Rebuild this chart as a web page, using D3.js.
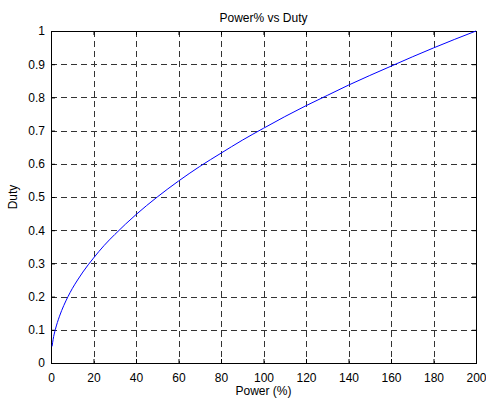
<!DOCTYPE html>
<html>
<head>
<meta charset="utf-8">
<script src="https://cdn.jsdelivr.net/npm/d3@7"></script>
<style>
  body { margin: 0; background: #fff; }
  text { font-family: "Liberation Sans", Arial, sans-serif; }
</style>
</head>
<body>
<div id="chart"></div>
<script>
// power (%) and duty
const power = [0.5, 1, 2, 3, 4, 6, 8, 10, 12.5, 15, 20, 25, 30, 40, 50, 60, 70, 80, 90, 100,
  110, 120, 130, 140, 150, 160, 170, 180, 190, 200];
const duty = [0.05, 0.071, 0.10, 0.122, 0.141, 0.173, 0.20, 0.224, 0.25, 0.274, 0.316, 0.354,
  0.387, 0.447, 0.50, 0.548, 0.592, 0.632, 0.671, 0.707, 0.742, 0.775, 0.806, 0.837, 0.866,
  0.894, 0.922, 0.949, 0.975, 1.00];
const xTicks = [0, 20, 40, 60, 80, 100, 120, 140, 160, 180, 200];
const yTicks = [0, 0.1, 0.2, 0.3, 0.4, 0.5, 0.6, 0.7, 0.8, 0.9, 1];

const width = 486, height = 400;
const margin = { top: 31, right: 10, bottom: 37, left: 51 };
const innerWidth = width - margin.left - margin.right;
const innerHeight = height - margin.top - margin.bottom;

const svg = d3.select("#chart").append("svg")
  .attr("width", width)
  .attr("height", height);

const g = svg.append("g")
  .attr("transform", `translate(${margin.left},${margin.top})`);

const x = d3.scaleLinear().domain([0, 200]).range([0, innerWidth]);
const y = d3.scaleLinear().domain([0, 1]).range([innerHeight, 0]);

// grid
g.append("g").selectAll("line")
  .data(xTicks.slice(1, -1))
  .join("line")
  .attr("x1", d => Math.round(x(d)) + 0.5).attr("x2", d => Math.round(x(d)) + 0.5)
  .attr("y1", 0).attr("y2", innerHeight)
  .attr("stroke", "#333").attr("stroke-dasharray", "6,4");

g.append("g").selectAll("line")
  .data(yTicks.slice(1, -1))
  .join("line")
  .attr("y1", d => Math.round(y(d)) + 0.5).attr("y2", d => Math.round(y(d)) + 0.5)
  .attr("x1", 0).attr("x2", innerWidth)
  .attr("stroke", "#333").attr("stroke-dasharray", "6,4");

// axes with inward ticks (box style)
const fmt = d => String(d);
g.append("g")
  .attr("transform", `translate(0,${innerHeight})`)
  .call(d3.axisBottom(x).tickValues(xTicks).tickSize(-4).tickPadding(10).tickFormat(fmt))
  .call(a => a.select(".domain").remove())
  .call(a => a.selectAll("text").attr("font-size", 12).attr("fill", "#000").attr("font-family", null));

g.append("g")
  .call(d3.axisTop(x).tickValues(xTicks).tickSize(-4))
  .call(a => a.select(".domain").remove())
  .call(a => a.selectAll("text").remove());

g.append("g")
  .call(d3.axisLeft(y).tickValues(yTicks).tickSize(-4).tickPadding(6).tickFormat(fmt))
  .call(a => a.select(".domain").remove())
  .call(a => a.selectAll("text").attr("font-size", 12).attr("fill", "#000").attr("font-family", null));

g.append("g")
  .attr("transform", `translate(${innerWidth},0)`)
  .call(d3.axisRight(y).tickValues(yTicks).tickSize(-4))
  .call(a => a.select(".domain").remove())
  .call(a => a.selectAll("text").remove());

g.append("rect")
  .attr("x", 0.5).attr("y", 0.5)
  .attr("width", innerWidth).attr("height", innerHeight)
  .attr("fill", "none").attr("stroke", "#000");

// curve
const line = d3.line()
  .x((d, i) => x(power[i]))
  .y(d => y(d))
  .curve(d3.curveMonotoneX);

g.append("path")
  .datum(duty)
  .attr("d", line)
  .attr("fill", "none")
  .attr("stroke", "#0000ff")
  .attr("stroke-width", 1);

// labels
svg.append("text")
  .attr("x", margin.left + innerWidth / 2)
  .attr("y", 22)
  .attr("text-anchor", "middle")
  .attr("font-size", 12)
  .text("Power% vs Duty");

svg.append("text")
  .attr("x", margin.left + innerWidth / 2)
  .attr("y", 395)
  .attr("text-anchor", "middle")
  .attr("font-size", 12)
  .text("Power (%)");

svg.append("text")
  .attr("transform", `translate(17,${margin.top + innerHeight / 2}) rotate(-90)`)
  .attr("text-anchor", "middle")
  .attr("font-size", 12)
  .text("Duty");
</script>
</body>
</html>
